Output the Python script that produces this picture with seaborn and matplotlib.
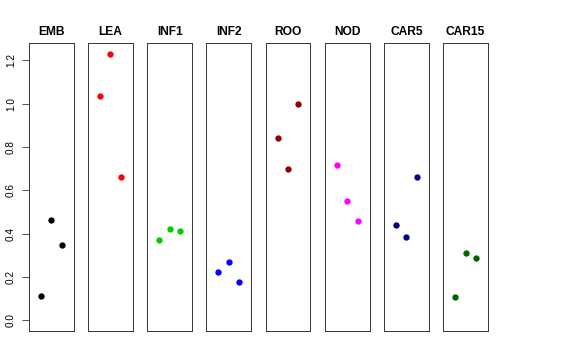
import matplotlib
matplotlib.use("Agg")
import matplotlib.pyplot as plt
import seaborn as sns
import pandas as pd

# panel names and colours
groups = ["EMB", "LEA", "INF1", "INF2", "ROO", "NOD", "CAR5", "CAR15"]
colors = ["#000000", "#FF0000", "#00CD00", "#0000FF",
          "#8B0000", "#FF00FF", "#000080", "#006400"]

# three replicate values per tissue
emb = [0.114, 0.461, 0.349]
lea = [1.034, 1.230, 0.660]
inf1 = [0.371, 0.420, 0.412]
inf2 = [0.224, 0.268, 0.175]
roo = [0.841, 0.697, 0.998]
nod = [0.717, 0.552, 0.460]
car5 = [0.441, 0.386, 0.661]
car15 = [0.108, 0.311, 0.288]
replicate = [1, 2, 3]

values = [emb, lea, inf1, inf2, roo, nod, car5, car15]
yticks = [0.0, 0.2, 0.4, 0.6, 0.8, 1.0, 1.2]

sns.set_style("white")
plt.rcParams['font.family'] = ['Liberation Sans', 'DejaVu Sans']
plt.rcParams['text.color'] = 'black'
plt.rcParams['ytick.color'] = 'black'
plt.rcParams['ytick.labelcolor'] = 'black'

fig, axes = plt.subplots(1, 8, figsize=(8, 5), dpi=72, sharey=True)
fig.subplots_adjust(left=0.0503, right=0.847, top=0.8797, bottom=0.0806, wspace=0.324)

ymax = max(max(v) for v in values)
pad = 0.04 * ymax

for ax, name, col, vals in zip(axes, groups, colors, values):
    df = pd.DataFrame({"rep": replicate, "value": vals})
    sns.scatterplot(data=df, x="rep", y="value", ax=ax, color=col,
                    s=40, edgecolor=col, linewidth=0, legend=False)
    ax.set_xlim(-0.16, 4.16)
    ax.set_ylim(-pad, ymax + pad)
    ax.set_xticks([])
    ax.set_xlabel("")
    ax.set_ylabel("")
    ax.set_title(name, fontsize=12, fontweight="bold", pad=8, color="black")
    for sp in ax.spines.values():
        sp.set_visible(True)
        sp.set_color("#3a3a3a")
        sp.set_linewidth(1.0)
    ax.tick_params(axis="y", left=False, labelleft=False)

axes[0].set_yticks(yticks)
axes[0].set_yticklabels([f"{t:.1f}" for t in yticks], rotation=90, va="center", fontsize=10)
axes[0].tick_params(axis="y", left=True, labelleft=True, length=7, width=1,
                    color="#555555", labelcolor="black", pad=6)

fig.savefig("out.png", dpi=72)
